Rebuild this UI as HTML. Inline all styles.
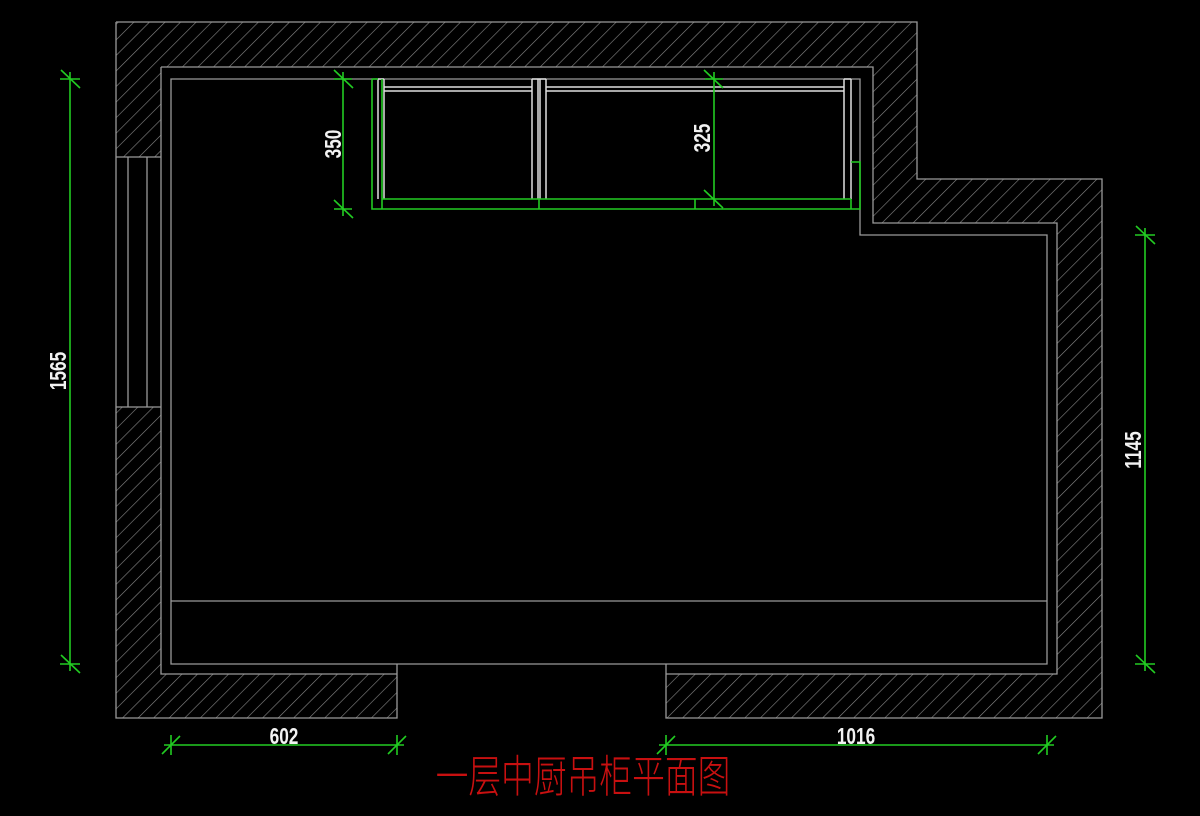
<!DOCTYPE html>
<html><head><meta charset="utf-8"><style>
html,body{margin:0;padding:0;background:#000;}
svg{display:block;}
text{font-family:"Liberation Sans Narrow","Liberation Sans",sans-serif;}
</style></head><body>
<svg width="1200" height="816" viewBox="0 0 1200 816" xmlns="http://www.w3.org/2000/svg">
<defs>
<pattern id="h" patternUnits="userSpaceOnUse" width="11" height="11" patternTransform="rotate(45)">
<line x1="0" y1="0" x2="0" y2="11" stroke="#8a8a8a" stroke-width="1.2"/>
</pattern>
</defs>
<rect width="1200" height="816" fill="#000"/>
<path fill="url(#h)" fill-rule="evenodd" d="M116,22 H917 V179 H1102 V718 H666 V674 H1057 V223 H873 V67 H161 V674 H397 V718 H116 Z"/>
<rect x="116" y="157" width="45" height="250" fill="#000"/>
<g fill="none" stroke="#9a9a9a" stroke-width="1.3">
<path d="M116,22 H917 V179 H1102 V718 H666 V664"/>
<path d="M116,22 V718 H397 V664"/>
<path d="M161,67 H873 V223 H1057 V674 H666"/>
<path d="M161,67 V674 H397"/>
<path d="M171,79 H860 V235 H1047 V664 H171 Z"/>
<line x1="171" y1="601" x2="1047" y2="601"/>
<line x1="116" y1="157" x2="161" y2="157"/>
<line x1="116" y1="407" x2="161" y2="407"/>
<line x1="128" y1="157" x2="128" y2="407"/>
<line x1="147" y1="157" x2="147" y2="407"/>
</g>
<g fill="none" stroke="#e0e0e0" stroke-width="1.5">
<line x1="378" y1="79" x2="378" y2="199"/>
<line x1="384" y1="79" x2="384" y2="199"/>
<line x1="384" y1="87" x2="532" y2="87"/>
<line x1="384" y1="91" x2="532" y2="91"/>
<line x1="546" y1="87" x2="844" y2="87"/>
<line x1="546" y1="91" x2="844" y2="91"/>
<line x1="532" y1="79" x2="532" y2="199"/>
<line x1="538" y1="79" x2="538" y2="199"/>
<line x1="540" y1="79" x2="540" y2="199"/>
<line x1="546" y1="79" x2="546" y2="199"/>
<line x1="844" y1="79" x2="844" y2="199"/>
<line x1="851" y1="79" x2="851" y2="199"/>
<line x1="378" y1="79" x2="384" y2="79"/>
<line x1="532" y1="79" x2="546" y2="79"/>
<line x1="844" y1="79" x2="851" y2="79"/>
</g>
<g fill="none" stroke="#22cc22" stroke-width="1.6">
<path d="M372,79 H378 M372,79 V209 H860 V162 H851"/>
<line x1="382" y1="79" x2="382" y2="209"/>
<line x1="382" y1="199" x2="851" y2="199"/>
<line x1="539" y1="199" x2="539" y2="209"/>
<line x1="695" y1="199" x2="695" y2="209"/>
<line x1="851" y1="199" x2="851" y2="209"/>
</g>
<g fill="none" stroke="#22cc22" stroke-width="1.6">
<line x1="343" y1="72" x2="343" y2="216"/>
<line x1="334" y1="79" x2="352" y2="79"/><line x1="334" y1="70" x2="353" y2="88"/>
<line x1="334" y1="209" x2="352" y2="209"/><line x1="334" y1="200" x2="353" y2="218"/>
<line x1="714" y1="72" x2="714" y2="206"/>
<line x1="705" y1="79" x2="723" y2="79"/><line x1="704" y1="70" x2="723" y2="88"/>
<line x1="704" y1="190" x2="723" y2="208"/>
<line x1="70" y1="72" x2="70" y2="671"/>
<line x1="60" y1="79" x2="80" y2="79"/><line x1="61" y1="70" x2="80" y2="88"/>
<line x1="60" y1="664" x2="80" y2="664"/><line x1="61" y1="655" x2="80" y2="673"/>
<line x1="1145" y1="228" x2="1145" y2="671"/>
<line x1="1135" y1="235" x2="1155" y2="235"/><line x1="1136" y1="226" x2="1155" y2="244"/>
<line x1="1135" y1="664" x2="1155" y2="664"/><line x1="1136" y1="655" x2="1155" y2="673"/>
<line x1="164" y1="745" x2="404" y2="745"/>
<line x1="171" y1="735" x2="171" y2="755"/><line x1="162" y1="754" x2="180" y2="736"/>
<line x1="397" y1="735" x2="397" y2="755"/><line x1="388" y1="754" x2="406" y2="736"/>
<line x1="659" y1="745" x2="1054" y2="745"/>
<line x1="666" y1="735" x2="666" y2="755"/><line x1="657" y1="754" x2="675" y2="736"/>
<line x1="1047" y1="735" x2="1047" y2="755"/><line x1="1038" y1="754" x2="1056" y2="736"/>
</g>
<g fill="#f2f2f2" font-size="23" font-weight="bold">
<text transform="translate(341,144) rotate(-90) scale(0.75,1)" text-anchor="middle">350</text>
<text transform="translate(710,138) rotate(-90) scale(0.75,1)" text-anchor="middle">325</text>
<text transform="translate(66,371) rotate(-90) scale(0.75,1)" text-anchor="middle">1565</text>
<text transform="translate(1141,450) rotate(-90) scale(0.75,1)" text-anchor="middle">1145</text>
<text transform="translate(284,744) scale(0.75,1)" text-anchor="middle">602</text>
<text transform="translate(856,744) scale(0.75,1)" text-anchor="middle">1016</text>
</g>
<text transform="translate(583,792) scale(0.78,1.05)" text-anchor="middle" fill="#c81010" font-size="42" style="font-family:'Noto Sans CJK SC',sans-serif;font-weight:300">一层中厨吊柜平面图</text>
</svg>
</body></html>
